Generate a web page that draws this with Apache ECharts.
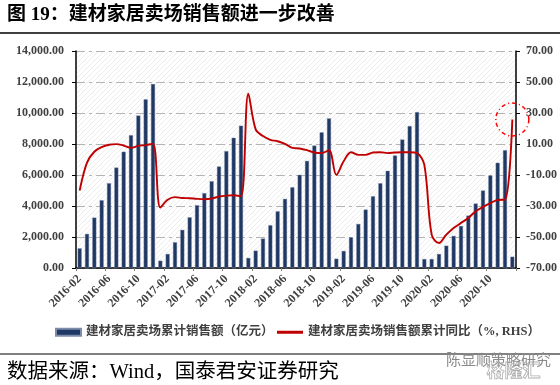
<!DOCTYPE html>
<html><head><meta charset="utf-8">
<script src="https://cdn.jsdelivr.net/npm/echarts@6/dist/echarts.min.js"></script>
<style>html,body{margin:0;padding:0;background:#fff}#c{width:560px;height:385px}</style>
</head><body><div id="c"></div>
<script>
const categories = [
 '2016-02','2016-03','2016-04','2016-05','2016-06','2016-07','2016-08','2016-09','2016-10','2016-11','2016-12',
 '2017-01','2017-02','2017-03','2017-04','2017-05','2017-06','2017-07','2017-08','2017-09','2017-10','2017-11','2017-12',
 '2018-01','2018-02','2018-03','2018-04','2018-05','2018-06','2018-07','2018-08','2018-09','2018-10','2018-11','2018-12',
 '2019-01','2019-02','2019-03','2019-04','2019-05','2019-06','2019-07','2019-08','2019-09','2019-10','2019-11','2019-12',
 '2020-01','2020-02','2020-03','2020-04','2020-05','2020-06','2020-07','2020-08','2020-09','2020-10','2020-11','2020-12',
 '2021-01'
];
const salesValues = [
 1270,2200,3250,4370,5470,6480,7500,8570,9840,10880,11870,
 470,905,1660,2460,3270,4050,4830,5600,6550,7540,8400,9180,
 650,1120,1900,2760,3660,4460,5210,6010,6910,7900,8750,9650,
 600,1100,1980,2840,3770,4630,5470,6270,7260,8290,9160,10060,
 580,580,905,1440,2070,2710,3380,4160,5000,5970,6790,7600,
 730
];
const yoyValues = [
 -20,-2,5,8,9.5,9.9,9,7.5,8.8,9.3,10.1,
 -31,-26,-24.3,-24.8,-25,-25.4,-25.6,-25.2,-23.9,-23.3,-23.1,-23.7,
 42.4,19.4,15.1,12.7,11.8,10.1,7.5,7.1,6.0,4.5,4.1,6.0,
 -9.9,-1.1,4.7,3.0,3.0,4.5,4.7,4.1,4.5,4.7,4.7,4.1,
 -3.5,-48.5,-53.9,-48.5,-44.2,-40.9,-37.7,-33.4,-30.6,-28.2,-26.1,-25.9,
 25.8
];
const leftTicks = [0,2000,4000,6000,8000,10000,12000,14000];
const rightTicks = [-70,-50,-30,-10,10,30,50,70];
const seriesNames = ['建材家居卖场累计销售额（亿元）','建材家居卖场销售额累计同比（%, RHS）'];
const titleText = '图 19：建材家居卖场销售额进一步改善';
const sourceText = '数据来源：Wind，国泰君安证券研究';

const serif = 'Liberation Serif, Noto Sans CJK SC';
const labelColor = '#404040';

// hatch pattern for plot background
const pc = document.createElement('canvas');
pc.width = 5; pc.height = 5;
const ctx = pc.getContext('2d');
ctx.fillStyle = '#ffffff'; ctx.fillRect(0,0,5,5);
ctx.strokeStyle = '#ececec'; ctx.lineWidth = 1;
ctx.beginPath(); ctx.moveTo(-1,6); ctx.lineTo(6,-1); ctx.stroke();

const chart = echarts.init(document.getElementById('c'), null, {renderer:'canvas'});
const lastIdx = categories.length - 1;
chart.setOption({
  animation: false,
  backgroundColor: '#fff',
  title: [
    {text: titleText, left: 7, top: 6, padding: 0,
     textStyle: {fontFamily: serif, fontSize: 19, fontWeight: 'bold', color: '#000'}},
    {text: sourceText, left: 7, top: 362, padding: 0,
     textStyle: {fontFamily: serif, fontSize: 20.5, fontWeight: 'normal', color: '#000'}}
  ],
  graphic: [
    {type:'line', shape:{x1:0,y1:33,x2:560,y2:33}, style:{stroke:'#000', lineWidth:1.5}},
    {type:'line', shape:{x1:0,y1:354,x2:560,y2:354}, style:{stroke:'#000', lineWidth:1.2}},
    {type:'text', left: 446, top: 352, style:{text:'陈显顺策略研究', fill:'#8a8a8a', font:'15px "Noto Sans CJK SC"'}},
    {type:'text', left: 486, top: 361, style:{text:'格隆汇', fill:'rgba(255,255,255,0)', stroke:'#b0b0b0', lineWidth:0.8, font:'bold 18px "Noto Sans CJK SC"'}}
  ],
  legend: [
    {data:[seriesNames[0]], left: 55, top: 326, padding: 0, itemWidth: 25, itemHeight: 7, itemGap: 4,
     icon:'rect', textStyle:{fontFamily: serif, fontSize: 12.5, fontWeight:'bold', color: labelColor}},
    {data:[seriesNames[1]], left: 277, top: 326, padding: 0, itemWidth: 26, itemHeight: 3, itemGap: 4,
     icon:'rect', textStyle:{fontFamily: serif, fontSize: 12.5, fontWeight:'bold', color: labelColor}}
  ],
  grid: {left: 76, right: 44, top: 51, bottom: 117, show: true, borderWidth: 0,
         backgroundColor: {image: pc, repeat: 'repeat'}},
  xAxis: {
    type: 'category', data: categories, boundaryGap: true,
    axisLine: {lineStyle: {color: '#000', width: 1.5}},
    axisTick: {show: true, interval: 3, length: 3, lineStyle: {color: '#808080'}},
    axisLabel: {interval: 3, rotate: 45, margin: 9, fontFamily: serif, fontSize: 12, fontWeight: 'bold', color: labelColor}
  },
  yAxis: [
    {type: 'value', min: leftTicks[0], max: leftTicks[leftTicks.length-1], interval: leftTicks[1]-leftTicks[0],
     axisLine: {show: true, lineStyle: {color: '#000', width: 1.5}},
     axisTick: {show: true, length: 4, lineStyle: {color: '#000'}},
     axisLabel: {margin: 12, fontFamily: serif, fontSize: 12, fontWeight: 'bold', color: labelColor,
       formatter: v => v.toLocaleString('en-US', {minimumFractionDigits: 2, maximumFractionDigits: 2})},
     splitLine: {show: true, lineStyle: {color: '#b4b4b4', width: 1, type: [9,4,3,4]}}},
    {type: 'value', min: rightTicks[0], max: rightTicks[rightTicks.length-1], interval: rightTicks[1]-rightTicks[0],
     axisLine: {show: true, lineStyle: {color: '#000', width: 1.5}},
     axisTick: {show: true, length: 4, lineStyle: {color: '#000'}},
     axisLabel: {margin: 10, fontFamily: serif, fontSize: 12, fontWeight: 'bold', color: labelColor,
       formatter: v => v.toFixed(2)},
     splitLine: {show: false}}
  ],
  series: [
    {name: seriesNames[0], type: 'bar', data: salesValues, yAxisIndex: 0, barWidth: 4,
     itemStyle: {color: '#1f3864', borderColor: '#7d8cab', borderWidth: 0.4}},
    {name: seriesNames[1], type: 'line', data: yoyValues, yAxisIndex: 1, smooth: 0.35,
     symbol: 'none', lineStyle: {color: '#c00000', width: 1.9}, itemStyle: {color: '#c00000'},
     markPoint: {silent: true, symbol: 'circle', symbolSize: 33, label: {show: false},
       itemStyle: {color: 'rgba(0,0,0,0)', borderColor: '#ff0000', borderWidth: 1.5, borderType: [4,3,1,3]},
       data: [{coord: [categories[lastIdx], yoyValues[lastIdx]]}]}}
  ]
});
</script></body></html>
